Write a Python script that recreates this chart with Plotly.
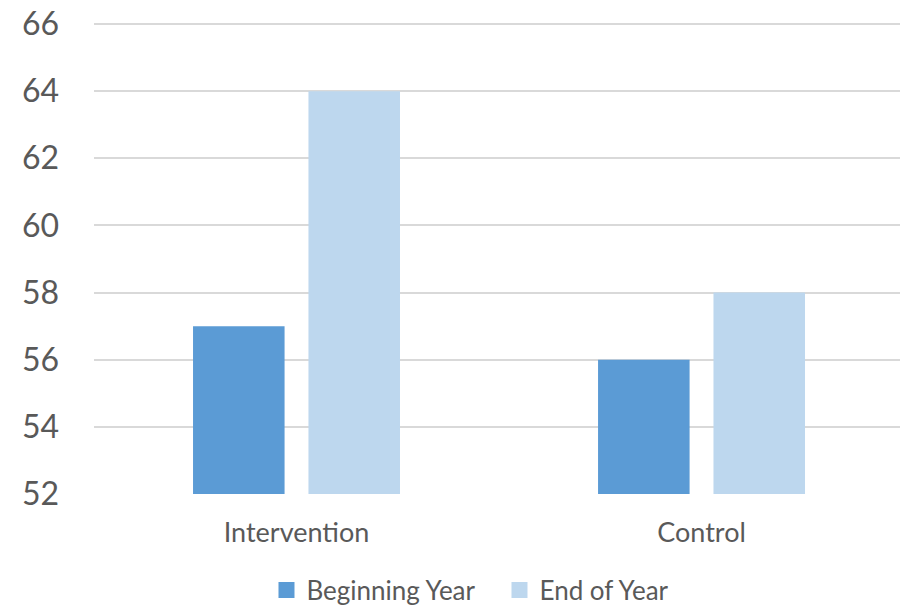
import plotly.graph_objects as go

groups = ["Intervention", "Control"]
beginning_year = [57, 56]
end_of_year = [64, 58]
y_ticks = [52, 54, 56, 58, 60, 62, 64, 66]

series_names = ["Beginning Year", "End of Year"]
series_colors = ["#5B9BD5", "#BDD7EE"]

text_color = "#595959"
font_family = "Lato, 'Open Sans', sans-serif"

fig = go.Figure()
for name, values, color in zip(series_names, [beginning_year, end_of_year], series_colors):
    fig.add_trace(go.Bar(
        name=name, x=groups, y=values, showlegend=False,
        marker=dict(color=color, line=dict(width=0)),
    ))

# legend entries with larger square swatches
for name, color in zip(series_names, series_colors):
    fig.add_trace(go.Scatter(
        name=name, x=[None], y=[None], mode="markers",
        marker=dict(symbol="square", size=16, color=color),
    ))

fig.update_layout(
    width=900, height=606,
    margin=dict(l=94, r=0, t=23, b=112),
    paper_bgcolor="white", plot_bgcolor="white",
    barmode="group", bargap=0.43, bargroupgap=0.207,
    font=dict(family=font_family, color=text_color),
    showlegend=True,
    legend=dict(
        orientation="h", xref="container", yref="container",
        x=0.2961, xanchor="left", y=0.0264, yanchor="middle",
        font=dict(size=26, color=text_color),
        itemwidth=30, traceorder="normal",
        entrywidth=188, entrywidthmode="pixels",
    ),
)
fig.update_xaxes(
    range=[-0.5, 1.49], showgrid=False, zeroline=False,
    showline=False, ticks="", ticklabelstandoff=20,
    tickfont=dict(size=27, color=text_color),
)
fig.update_yaxes(
    range=[52, 66.03], tickvals=y_ticks, showgrid=True,
    gridcolor="#D9D9D9", gridwidth=1.5, zeroline=False, showline=False,
    ticks="", ticklabelstandoff=34, tickfont=dict(size=32, color=text_color),
)

fig.write_html("out.html")
